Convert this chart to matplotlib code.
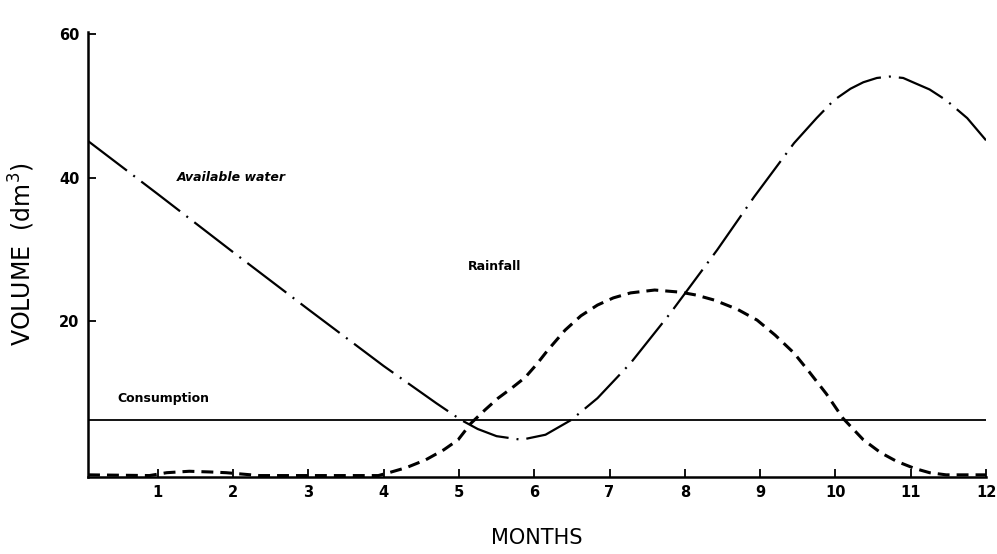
import numpy as np
import matplotlib
matplotlib.use('Agg')
import matplotlib.pyplot as plt

# values (volume in dm3, months)
water_month = [0.075, 1.0, 2.0, 3.0, 4.0, 4.7, 5.03, 5.25, 5.5, 5.83, 6.15, 6.49, 6.84,
               7.28, 7.81, 8.43, 8.92, 9.45, 9.75, 9.98, 10.2, 10.37, 10.55, 10.72,
               10.9, 11.03, 11.25, 11.47, 11.75, 12.0]
water_vol = [45.1, 37.7, 29.6, 21.6, 13.7, 8.5, 6.15, 4.9, 3.9, 3.4, 4.1, 6.15, 9.2,
             14.1, 21.1, 29.9, 37.3, 44.8, 48.3, 50.8, 52.4, 53.3, 53.9, 54.1,
             53.9, 53.3, 52.3, 50.8, 48.3, 45.2]

rain_month = [0.075, 0.89, 1.12, 1.42, 1.7, 1.91, 2.35, 3.93, 4.07, 4.3, 4.56, 4.8,
              4.99, 5.16, 5.35, 5.52, 5.7, 5.88, 6.03, 6.18, 6.41, 6.62, 6.84, 7.05,
              7.28, 7.6, 7.94, 8.15, 8.39, 8.7, 8.96, 9.2, 9.45, 9.65, 9.88, 10.1,
              10.37, 10.6, 10.81, 11.05, 11.25, 11.47, 12.0]
rain_vol = [-1.5, -1.6, -1.2, -1.0, -1.1, -1.2, -1.6, -1.6, -1.2, -0.5, 0.6, 2.0,
            3.4, 5.7, 7.6, 9.2, 10.6, 12.1, 13.9, 15.9, 18.7, 20.7, 22.2, 23.2,
            23.9, 24.3, 24.0, 23.6, 22.9, 21.6, 20.1, 18.0, 15.5, 12.9, 9.8, 6.4,
            3.4, 1.6, 0.4, -0.6, -1.2, -1.5, -1.5]

cons_month = [0.075, 12.0]
cons_vol = [6.15, 6.15]

xticks = list(range(1, 13))
yticks = [20, 40, 60]

plt.rcParams['font.family'] = ['DejaVu Sans']

fig = plt.figure(figsize=(9.97, 5.54), dpi=100)
ax = fig.add_axes([0.0883, 0.139, 0.9007, 0.803])

ax.plot(water_month, water_vol, color='black', lw=1.6,
        linestyle=(0, (22, 3.6, 0.9, 3.6)))
ax.plot(rain_month, rain_vol, color='black', lw=2.2,
        linestyle=(0, (3.9, 2.3)))
ax.plot(cons_month, cons_vol, color='black', lw=1.3)

ax.set_xlim(0.075, 12.0)
ax.set_ylim(-1.8, 60.3)
ax.set_xticks(xticks)
ax.set_yticks(yticks)
ax.tick_params(direction='in', length=6, width=1.3, labelsize=10.5, pad=6)
for lab in ax.get_xticklabels() + ax.get_yticklabels():
    lab.set_fontweight('bold')

for s in ['top', 'right']:
    ax.spines[s].set_visible(False)
for s in ['left', 'bottom']:
    ax.spines[s].set_linewidth(1.8)

ax.set_xlabel('MONTHS', fontsize=15, labelpad=20)
ax.set_ylabel('VOLUME  (dm$^3$)', fontsize=17, labelpad=16)

ax.text(1.26, 40.0, 'Available water', fontsize=9, fontweight='bold',
        fontstyle='italic', va='center')
ax.text(5.12, 27.6, 'Rainfall', fontsize=9, fontweight='bold', va='center')
ax.text(0.47, 9.2, 'Consumption', fontsize=9, fontweight='bold', va='center')

fig.savefig('out.png', dpi=100)
